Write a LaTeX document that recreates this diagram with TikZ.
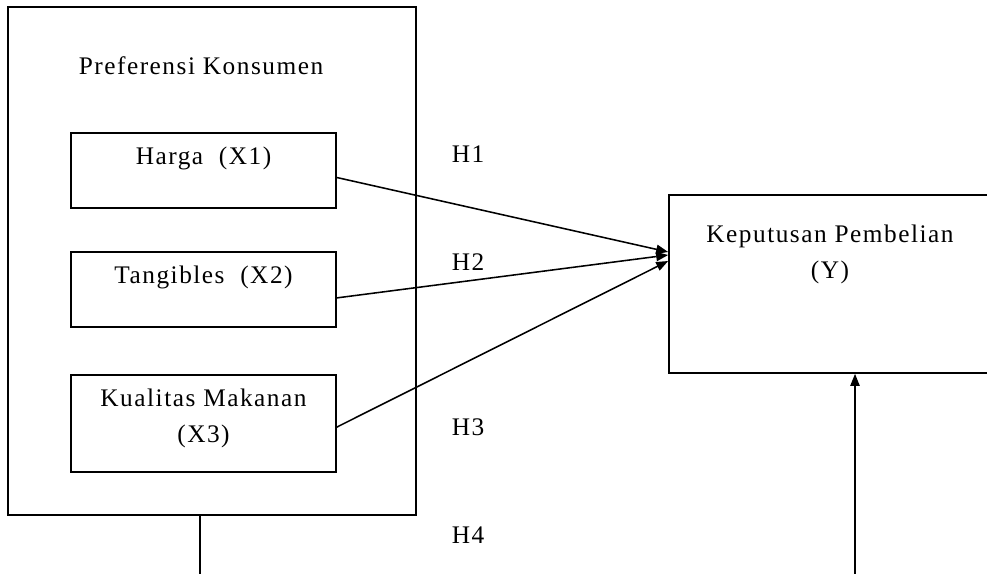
\documentclass[tikz,border=0pt]{standalone}
\usepackage{fontspec}
\setmainfont{Liberation Serif}[LetterSpace=6]
\usetikzlibrary{arrows.meta,positioning}
\tikzset{
  box/.style={draw, line width=1.1pt, inner sep=0pt},
  txt/.style={anchor=base, inner sep=0pt, align=center, font=\fontsize{18}{25.5}\selectfont},
  arr/.style={-{Triangle[length=0.3cm,width=0.23cm]}, line width=1.1pt},
  lin/.style={line width=1.1pt}
}
\begin{document}
\begin{tikzpicture}[x=0.025cm, y=-0.025cm]
	\useasboundingbox (0,0) rectangle (987,573);
	% variabel bebas
	\node[box, minimum width=10.2cm, minimum height=12.7cm] (pk) at (212,261) {};
	\node[txt] (pkT) at (201,74) {Preferensi Konsumen};
	\foreach \n/\y/\h/\s/\t in {x1/170.5/1.875/0.8/{Harga\ \ (X1)},
	x2/289.5/1.875/0.8/{Tangibles\ \ (X2)}, x3/423.5/2.425/1.7/{Kualitas Makanan\\(X3)}}{
		\node[box, minimum width=6.625cm, minimum height=\h cm] (\n) at (203.5,\y) {};
		\node[txt] (\n T) at ([yshift=-\s cm]\n.north) {\t};
	}

	% variabel terikat
	\node[box, minimum width=8.275cm, minimum height=4.45cm] (Y) at (834.5,284) {};
	\node[txt] (YT) at (830,278) {Keputusan Pembelian\\(Y)};

	\draw[arr] ([yshift=-0.175cm]x1.east) -- ([yshift=0.8cm]Y.west);
	\draw[arr] ([yshift=-0.21cm]x2.east) -- ([yshift=0.725cm]Y.west);
	\draw[arr] ([yshift=-0.09cm]x3.east) -- ([yshift=0.575cm]Y.west);

	\coordinate (b1) at (200,590);
	\coordinate (b2) at (855,590);
	\draw[lin] ([xshift=-0.3cm]pk.south) -- (b1);
	\draw[arr] (b2) -- ([xshift=0.5125cm]Y.south);

	\node[txt] (h1) at (468,162) {H1};
	\node[txt] (h2) at (468,270) {H2};
	\node[txt] (h3) at (468,435) {H3};
	\node[txt] (h4) at (468,543) {H4};
\end{tikzpicture}
\end{document}
